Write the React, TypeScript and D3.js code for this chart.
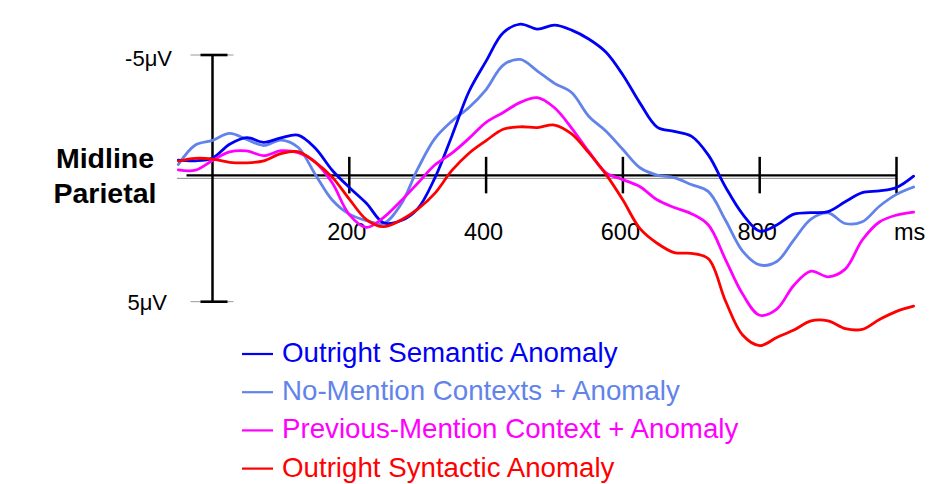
import React from "react";
import * as d3 from "d3";

// Sample times (ms after word onset)
const TIMES = [
  -50, -25, 0, 25, 50, 75, 100, 125, 150, 175,
  200, 225, 250, 275, 300, 325, 350, 375, 400, 425,
  450, 475, 500, 525, 550, 575, 600, 625, 650, 675,
  700, 725, 750, 775, 800, 825, 850, 875, 900, 925,
  950, 975, 1000, 1025,
];

// Grand-average amplitudes (µV), negative plotted up
const SEMANTIC = [
  -0.74, -0.71, -0.82, -1.38, -1.65, -1.46, -1.64, -1.75, -1.23, -0.33,
  0.37, 1.01, 1.8, 1.72, 1.23, -0.01, -1.72, -3.52, -4.75, -5.9,
  -6.25, -6.05, -6.21, -6.01, -5.65, -5.12, -4.19, -3.05, -2.08, -1.9,
  -1.71, -0.94, 0.35, 1.45, 2.14, 1.89, 1.45, 1.39, 1.35, 0.95,
  0.58, 0.51, 0.37, -0.09,
];
const NO_MENTION = [
  -0.56, -1.35, -1.54, -1.82, -1.58, -1.33, -1.55, -1.26, -0.17, 0.88,
  1.45, 1.71, 1.83, 1.08, -0.38, -1.61, -2.32, -2.87, -3.6, -4.59,
  -4.82, -4.35, -3.85, -3.48, -2.52, -1.92, -1.17, -0.43, -0.13, -0.03,
  0.25, 0.54, 1.7, 2.95, 3.51, 3.37, 2.49, 1.65, 1.4, 1.83,
  1.76, 1.13, 0.65, 0.35,
];
const PREVIOUS_MENTION = [
  -0.34, -0.33, -0.72, -1.07, -1.11, -0.92, -1.12, -1.04, -0.67, 0.18,
  1.47, 1.99, 1.59, 0.93, 0.2, -0.54, -1.02, -1.62, -2.27, -2.67,
  -3.08, -3.27, -2.86, -2.04, -1.09, -0.23, 0.05, 0.34, 0.87, 1.18,
  1.43, 1.89, 3.29, 4.69, 5.55, 5.3, 4.33, 3.76, 3.99, 3.68,
  2.5, 1.77, 1.49, 1.37,
];
const SYNTACTIC = [
  -0.7, -0.81, -0.78, -0.65, -0.63, -0.71, -1.0, -1.08, -0.66, -0.05,
  0.84, 1.67, 1.96, 1.7, 1.25, 0.61, -0.32, -1.02, -1.53, -1.99,
  -2.09, -2.06, -2.16, -1.8, -1.04, -0.17, 0.88, 2.04, 2.63, 3.01,
  3.04, 3.26, 4.97, 6.35, 6.78, 6.45, 6.15, 5.78, 5.78, 6.09,
  6.12, 5.72, 5.39, 5.18,
];

const SERIES_LABELS = [
  "Outright Semantic Anomaly",
  "No-Mention Contexts + Anomaly",
  "Previous-Mention Context + Anomaly",
  "Outright Syntactic Anomaly",
];
const SERIES_COLORS = ["#0000f5", "#6283ea", "#ff00ff", "#ff0000"];
const SERIES_VALUES = [SEMANTIC, NO_MENTION, PREVIOUS_MENTION, SYNTACTIC];
// draw order, back to front
const DRAW_ORDER = [1, 0, 2, 3];

const X_TICKS = [200, 400, 600, 800];
const X_UNIT = "ms";
const Y_TICKS = [-5, 5];
const Y_TICK_LABELS = ["-5μV", "5μV"];
const SITE_LABEL = ["Midline", "Parietal"];

const FONT = "'Liberation Sans', Arial, Helvetica, sans-serif";

export default function App() {
  const x = d3.scaleLinear().domain([0, 1000]).range([212.5, 896.5]);
  const y = d3.scaleLinear().domain([-5, 5]).range([55, 301.7]);

  const line = d3
    .line<number>()
    .x((_, i) => x(TIMES[i]))
    .y((v) => y(v))
    .curve(d3.curveCatmullRom.alpha(0.5));

  const y0 = y(0);
  const axisY = y0 - 3;
  const x0 = x(0);

  return (
    <svg
      width={952}
      height={484}
      style={{ position: "absolute", left: 0, top: 0, background: "#fff" }}
      fontFamily={FONT}
    >
      <rect width={952} height={484} fill="#fff" />

      {/* zero baseline */}
      <line x1={x(-52)} x2={x(1000)} y1={y0} y2={y0} stroke="#8a8a8a" strokeWidth={1} />
      {/* time axis */}
      <line x1={x(-38)} x2={x(1000)} y1={axisY} y2={axisY} stroke="#000" strokeWidth={2.2} />
      {[...X_TICKS, 1000].map((t) => (
        <line key={t} x1={x(t)} x2={x(t)} y1={axisY - 18.5} y2={axisY + 18} stroke="#000" strokeWidth={2.5} />
      ))}
      {X_TICKS.map((t) => (
        <text key={t} x={x(t) - 2.5} y={240} fontSize={23.5} textAnchor="middle" fill="#000">
          {t}
        </text>
      ))}
      <text x={x(1000) - 2.5} y={240} fontSize={23.5} fill="#000">
        {X_UNIT}
      </text>

      {/* amplitude axis */}
      <line x1={x0} x2={x0} y1={y(-5)} y2={y(5)} stroke="#000" strokeWidth={2.5} />
      {Y_TICKS.map((v) => (
        <g key={v}>
          <line x1={x0 - 22} x2={x0 + 21} y1={y(v)} y2={y(v)} stroke="#999" strokeWidth={1} />
          <line x1={x0 - 12} x2={x0 + 15} y1={y(v)} y2={y(v)} stroke="#000" strokeWidth={2.6} />
        </g>
      ))}
      <text x={172} y={66} fontSize={22} textAnchor="end" fill="#000">
        {Y_TICK_LABELS[0]}
      </text>
      <text x={167} y={310} fontSize={22} textAnchor="end" fill="#000">
        {Y_TICK_LABELS[1]}
      </text>

      {/* electrode site */}
      <text x={105} y={167.7} fontSize={28.5} fontWeight="bold" textAnchor="middle" fill="#000">
        {SITE_LABEL[0]}
      </text>
      <text x={105} y={202.7} fontSize={28.5} fontWeight="bold" textAnchor="middle" fill="#000">
        {SITE_LABEL[1]}
      </text>

      {/* waveforms */}
      {DRAW_ORDER.map((i) => (
        <path
          key={SERIES_LABELS[i]}
          d={line(SERIES_VALUES[i]) ?? ""}
          fill="none"
          stroke={SERIES_COLORS[i]}
          strokeWidth={2.8}
          strokeLinejoin="round"
          strokeLinecap="round"
        />
      ))}

      {/* legend */}
      {SERIES_LABELS.map((label, i) => {
        const by = 362 + i * 38.2;
        return (
          <g key={label}>
            <line x1={242} x2={273} y1={by - 8} y2={by - 8} stroke={SERIES_COLORS[i]} strokeWidth={2.2} />
            <text x={282} y={by} fontSize={27.7} fill={SERIES_COLORS[i]}>
              {label}
            </text>
          </g>
        );
      })}
    </svg>
  );
}
